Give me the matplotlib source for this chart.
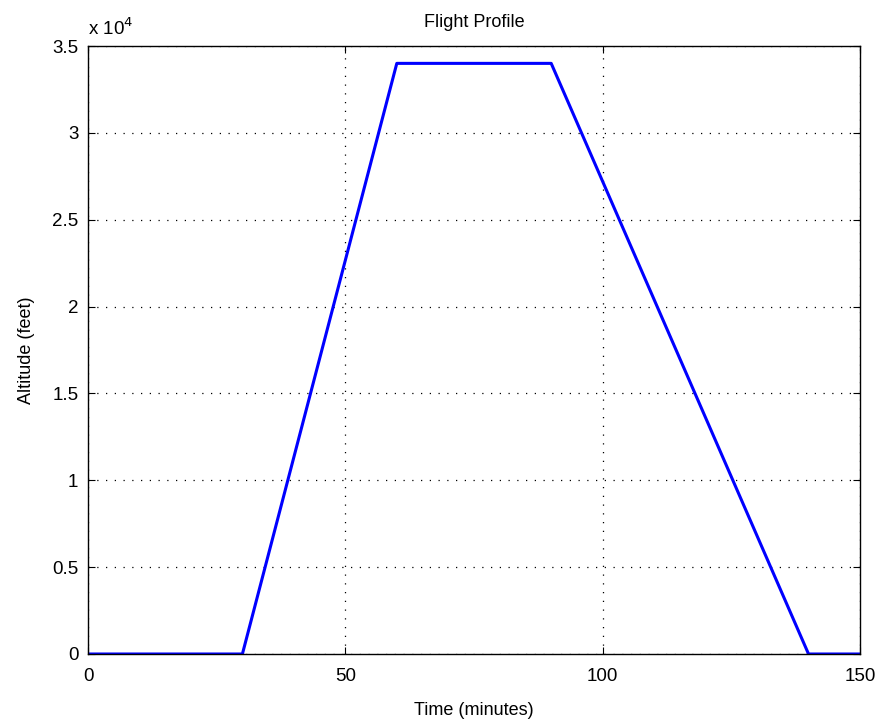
import matplotlib
matplotlib.use("Agg")
import matplotlib.pyplot as plt
from matplotlib.ticker import FuncFormatter, MultipleLocator

time_min = [0, 30, 60, 90, 140, 150]
altitude_ft = [0, 0, 34000, 34000, 0, 0]

plt.rcParams['font.family'] = ['Liberation Sans', 'DejaVu Sans']

fig = plt.figure(figsize=(8.81, 7.21), dpi=100)
ax = fig.add_axes([88/881, 67/721, 772/881, 608/721])
ax.plot(time_min, altitude_ft, color='#0000ff', linewidth=2.2)
ax.set_xlim(0, 150)
ax.set_ylim(0, 35000)
ax.xaxis.set_major_locator(MultipleLocator(50))
ax.yaxis.set_major_locator(MultipleLocator(5000))
ax.yaxis.set_major_formatter(FuncFormatter(lambda v, p: '%g' % (v / 1e4)))
ax.grid(True, color='black', linestyle=(0, (1, 6)), linewidth=0.9)
ax.tick_params(direction='in', top=True, right=True, labelsize=13.5, length=5, pad=7)
ax.tick_params(axis='x', pad=10)
for s in ax.spines.values():
    s.set_linewidth(1.0)
ax.set_xlabel('Time (minutes)', fontsize=13, labelpad=12)
ax.set_ylabel('Altitude (feet)', fontsize=13, labelpad=12)
ax.set_title('Flight Profile', fontsize=13, pad=14)
ax.text(0, 1.012, r'x 10$^4$', transform=ax.transAxes, fontsize=13.5, ha='left', va='bottom')
fig.savefig('out.png', dpi=100)
